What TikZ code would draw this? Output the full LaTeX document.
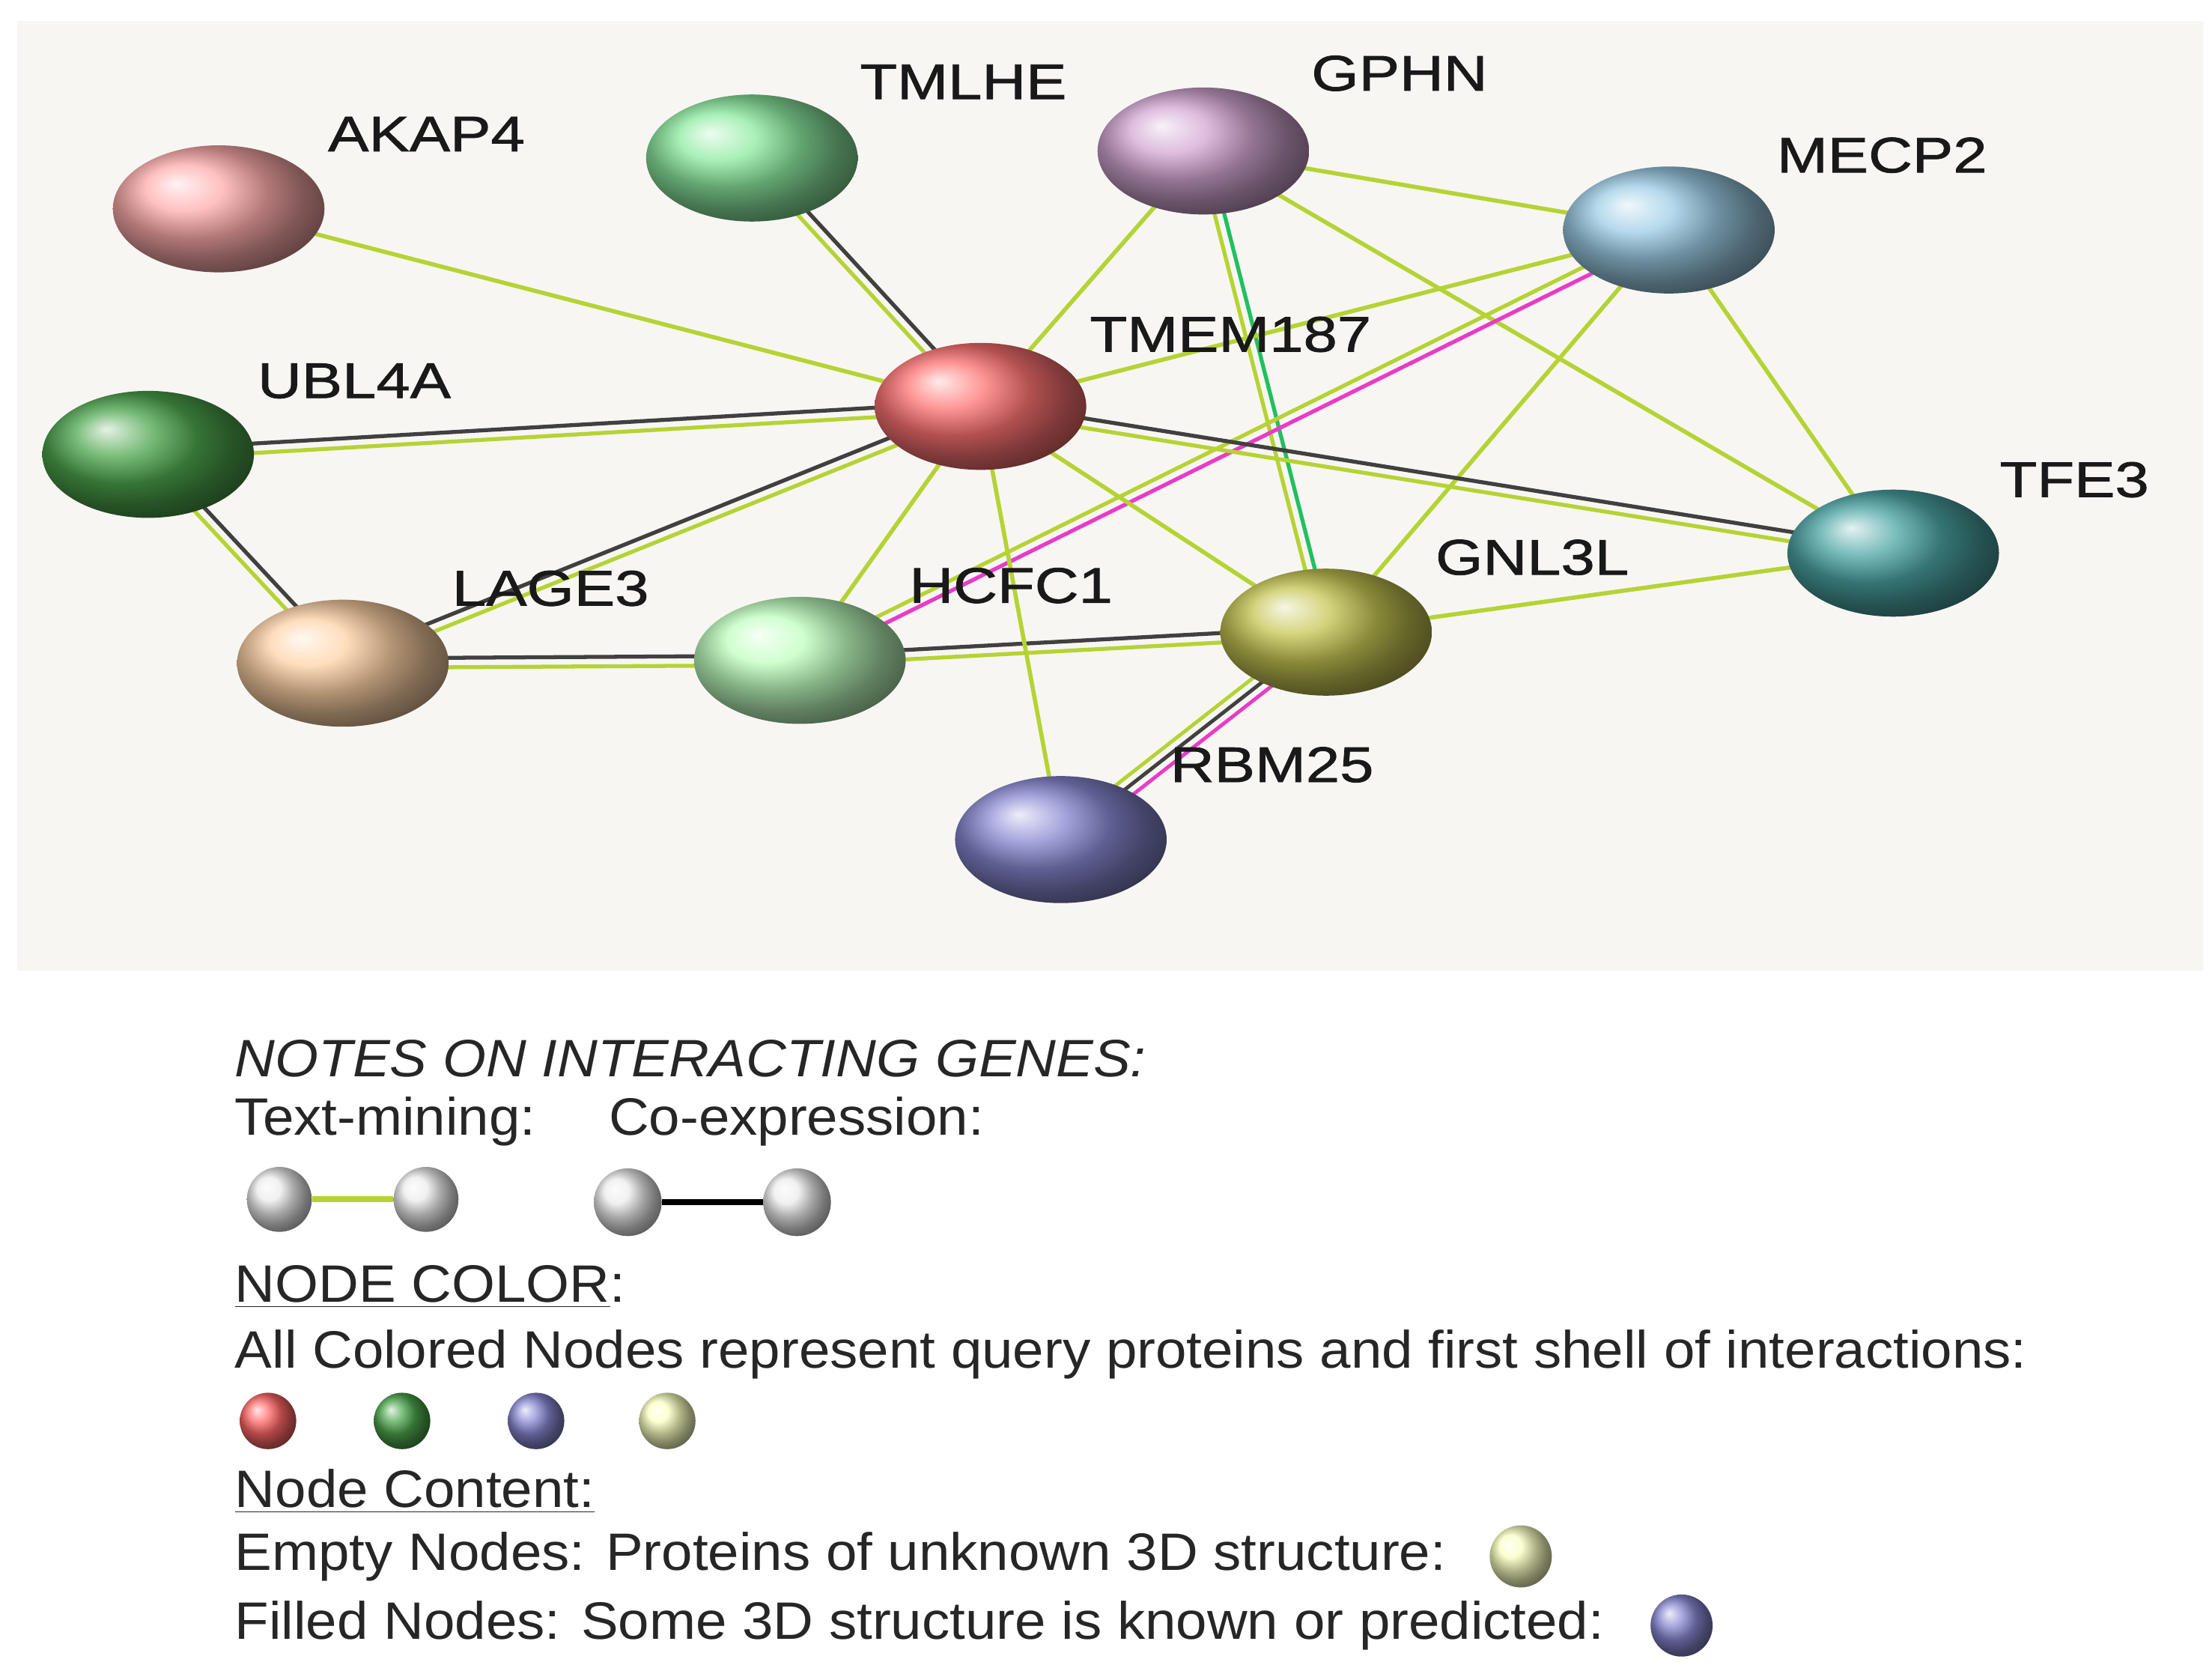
\documentclass[tikz,border=0pt]{standalone}
\usepackage{fontspec}
\setmainfont{Liberation Sans}[FakeStretch=1.06]
\newfontfamily\labfont{Liberation Sans}[FakeStretch=1.22,FakeBold=1.2]
\usetikzlibrary{shapes.geometric,calc}
\definecolor{tm}{HTML}{B5D334}
\definecolor{co}{HTML}{404040}
\definecolor{pk}{HTML}{E83CC8}
\definecolor{bg}{HTML}{F8F6F3}
\definecolor{bgr}{HTML}{22C060}
\definecolor{mec}{HTML}{9CCDE6}
\newcommand{\ed}[3]{\draw[#3,line width=1.6pt] (#1) -- (#2);}
\newcommand{\dbl}[4]{\draw[#3,line width=1.5pt] ($(#1)!1.8pt!90:(#2)$) -- ($(#2)!1.8pt!-90:(#1)$);
 \draw[#4,line width=1.5pt] ($(#1)!1.8pt!-90:(#2)$) -- ($(#2)!1.8pt!90:(#1)$);}
\begin{document}
\begin{tikzpicture}[x=0.01884cm,y=-0.01884cm,
 prot/.style={ellipse, minimum height=90*0.01884cm, minimum width=150*0.01884cm, ball color=#1, inner sep=0pt},
 lab/.style={font=\labfont\fontsize{19}{21}\selectfont, text=black!90, anchor=west},
 leg/.style={font=\fontsize{20}{22}\selectfont, text=black!85, anchor=west},
 mini/.style={ellipse, minimum width=#1*0.01884cm, minimum height=#1*0.01884cm, inner sep=0pt}]
\useasboundingbox (0,0) rectangle (1568,1186);
\fill[white] (0,0) rectangle (1568,1186);
\fill[bg] (12,15) rectangle (1562,688);
% node positions
\coordinate (cAK) at (155,148);
\coordinate (cTM) at (533,112);
\coordinate (cGP) at (853,107);
\coordinate (cME) at (1183,163);
\coordinate (cT7) at (695,288);
\coordinate (cUB) at (105,322);
\coordinate (cTF) at (1342,392);
\coordinate (cLA) at (243,470);
\coordinate (cHC) at (567,468);
\coordinate (cGN) at (940,448);
\coordinate (cRB) at (752,595);
% edges
\ed{cAK}{cT7}{tm}
\dbl{cTM}{cT7}{co}{tm}
\ed{cGP}{cT7}{tm}
\ed{cGP}{cME}{tm}
\ed{cGP}{cTF}{tm}
\dbl{cGP}{cGN}{bgr}{tm}
\ed{cME}{cT7}{tm}
\ed{cME}{cTF}{tm}
\ed{cME}{cGN}{tm}
\dbl{cME}{cHC}{pk}{tm}
\dbl{cUB}{cT7}{co}{tm}
\dbl{cUB}{cLA}{co}{tm}
\dbl{cLA}{cT7}{co}{tm}
\dbl{cLA}{cHC}{co}{tm}
\ed{cHC}{cT7}{tm}
\dbl{cHC}{cGN}{co}{tm}
\ed{cT7}{cGN}{tm}
\ed{cT7}{cRB}{tm}
\dbl{cT7}{cTF}{co}{tm}
\ed{cGN}{cTF}{tm}
\draw[pk,line width=1.4pt] ($(cGN)!3.4pt!90:(cRB)$) -- ($(cRB)!3.4pt!-90:(cGN)$);
\draw[co,line width=1.4pt] (cGN) -- (cRB);
\draw[tm,line width=1.4pt] ($(cGN)!3.4pt!-90:(cRB)$) -- ($(cRB)!3.4pt!90:(cGN)$);
% nodes
\node[prot={red!25!pink!75!white}] (AK) at (cAK) {};
\node[prot={teal!35!green!45!white}] (TM) at (cTM) {};
\node[prot={violet!35!white}] (GP) at (cGP) {};
\node[prot=mec] (ME) at (cME) {};
\node[prot={red!55!white}] (T7) at (cT7) {};
\node[prot={green!50!black!70!white}] (UB) at (cUB) {};
\node[prot={teal!70!white}] (TF) at (cTF) {};
\node[prot={orange!35!white}] (LA) at (cLA) {};
\node[prot={green!25!white}] (HC) at (cHC) {};
\node[prot={olive!45!white}] (GN) at (cGN) {};
\node[prot={blue!45!white!65!gray}] (RB) at (cRB) {};
% labels
\node[lab] (lAK) at (226,95) {AKAP4};
\node[lab] (lTM) at (603,58) {TMLHE};
\node[lab] (lGP) at (923,52) {GPHN};
\node[lab] (lME) at (1253,110) {MECP2};
\node[lab] (lT7) at (766,237) {TMEM187};
\node[lab] (lUB) at (176,270) {UBL4A};
\node[lab] (lTF) at (1411,340) {TFE3};
\node[lab] (lLA) at (314,417) {LAGE3};
\node[lab] (lHC) at (638,415) {HCFC1};
\node[lab] (lGN) at (1011,395) {GNL3L};
\node[lab] (lRB) at (823,542) {RBM25};
% legend
\node[leg,font=\fontsize{20}{22}\selectfont\itshape] (n1) at (160,750) {NOTES ON INTERACTING GENES:};
\node[leg] (n2) at (160,795) {Text-mining:};
\node[leg] (n3) at (425,795) {Co-expression:};
\node[mini=46,ball color=gray!15] (g1) at (198,850) {};
\node[mini=46,ball color=gray!15] (g2) at (302,850) {};
\node[mini=48,ball color=gray!15] (g3) at (445,852) {};
\node[mini=48,ball color=gray!15] (g4) at (565,852) {};
\draw[tm,line width=2.2pt] (g1) -- (g2);
\draw[black,line width=2.2pt] (g3) -- (g4);
\node[leg] (n4) at (160,912) {\underline{NODE COLOR}:};
\node[leg] (n5) at (160,960) {All Colored Nodes represent query proteins and first shell of interactions:};
\node[mini=40,ball color=red!60!white] (s1) at (190,1007) {};
\node[mini=40,ball color=green!50!black!70!white] (s2) at (285,1007) {};
\node[mini=40,ball color=blue!45!white!65!gray] (s3) at (380,1007) {};
\node[mini=40,ball color=lime!30!yellow!25!white] (s4) at (473,1007) {};
\node[leg] (n6) at (160,1057) {\underline{Node Content:}};
\node[leg] (n7) at (160,1103) {Empty Nodes: Proteins of unknown 3D structure:};
\node[mini=44,ball color=lime!30!yellow!25!white] (s5) at (1078,1103) {};
\node[leg] (n8) at (160,1152) {Filled Nodes: Some 3D structure is known or predicted:};
\node[mini=44,ball color=blue!45!white!65!gray] (s6) at (1192,1152) {};
\end{tikzpicture}
\end{document}
